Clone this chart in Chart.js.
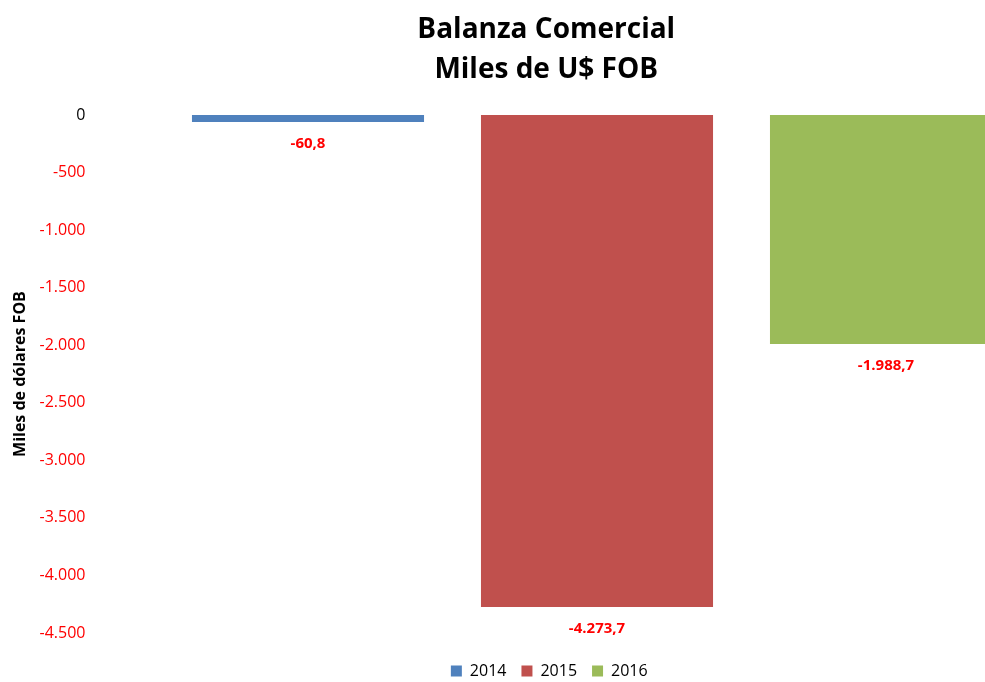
<!DOCTYPE html>
<html lang="es">
<head>
<meta charset="UTF-8">
<title>Balanza Comercial</title>
<script src="https://cdn.jsdelivr.net/npm/chart.js"></script>
<style>
  html, body { margin: 0; padding: 0; background: #fff; overflow: hidden; }
  .graph-container { position: relative; width: 1092px; height: 682px; }
</style>
</head>
<body>
<div class="graph-container">
  <canvas id="balanzaChart"></canvas>
</div>

<script>
// Balanza comercial por año, en miles de US$ FOB
const years = ['2014', '2015', '2016'];
const balance = [-60.8, -4273.7, -1988.7];
const barColors = ['#4F81BD', '#C0504D', '#9BBB59'];
const yTicks = [0, -500, -1000, -1500, -2000, -2500, -3000, -3500, -4000, -4500];

const FONT = 'Open Sans';

// formato con punto de miles y coma decimal (ej. -4.273,7)
function formatEs(value, decimals) {
  const neg = value < 0;
  const parts = Math.abs(value).toFixed(decimals).split('.');
  const intPart = parts[0].replace(/\B(?=(\d{3})+(?!\d))/g, '.');
  return (neg ? '-' : '') + intPart + (parts[1] ? ',' + parts[1] : '');
}

// etiquetas de valor debajo de cada barra
const valueLabels = {
  id: 'valueLabels',
  afterDatasetsDraw(chart) {
    const ctx = chart.ctx;
    ctx.save();
    ctx.font = 'bold 15px "' + FONT + '"';
    ctx.fillStyle = '#FF0000';
    ctx.textAlign = 'center';
    ctx.textBaseline = 'middle';
    chart.data.datasets.forEach((ds, i) => {
      chart.getDatasetMeta(i).data.forEach((bar, j) => {
        const v = ds.data[j];
        if (v === null || v === undefined) return;
        ctx.fillText(formatEs(v, 1), bar.x, bar.y + 22);
      });
    });
    ctx.restore();
  }
};

// título y leyenda centrados un poco más a la derecha que el ancho completo
const shiftBlocks = {
  id: 'shiftBlocks',
  afterLayout(chart) {
    const moves = [[chart.titleBlock, 25], [chart.legend, 28]];
    moves.forEach(([box, dx]) => {
      if (!box) return;
      box.left += dx;
      box.right += dx;
    });
  }
};

// un dataset por año, cada uno con valor solo en su propia categoría
const datasets = years.map((y, i) => ({
  label: y,
  data: years.map((_, j) => (j === i ? balance[i] : null)),
  backgroundColor: barColors[i],
  grouped: false,
  barPercentage: 0.803,
  categoryPercentage: 1
}));

const ctx = document.getElementById('balanzaChart').getContext('2d');
new Chart(ctx, {
  type: 'bar',
  data: { labels: years, datasets: datasets },
  options: {
    responsive: true,
    maintainAspectRatio: false,
    animation: false,
    layout: { padding: { top: 0, right: 61.5, bottom: 0, left: 12 } },
    plugins: {
      title: {
        display: true,
        text: ['Balanza Comercial', 'Miles de U$ FOB'],
        color: '#000',
        font: { family: FONT, size: 28, weight: 'bold', lineHeight: 1.43 },
        padding: { top: 10, bottom: 25 }
      },
      legend: {
        position: 'bottom',
        maxHeight: 34,
        labels: {
          color: '#000',
          font: { family: FONT, size: 16 },
          boxWidth: 11,
          boxHeight: 11,
          padding: 15
        }
      },
      tooltip: { enabled: false }
    },
    scales: {
      x: {
        ticks: { display: false },
        grid: { display: false },
        border: { display: false },
        afterFit(scale) { scale.height = 15; }
      },
      y: {
        min: -4500,
        max: 0,
        afterBuildTicks(scale) { scale.ticks = yTicks.map(v => ({ value: v })); },
        ticks: {
          padding: 70,
          color: c => (c.tick.value === 0 ? '#000000' : '#FF0000'),
          font: { family: FONT, size: 16 },
          callback: v => formatEs(v, 0)
        },
        grid: { display: false },
        border: { display: false },
        title: {
          display: true,
          text: 'Miles de dólares FOB',
          color: '#000',
          font: { family: FONT, size: 16, weight: 'bold' },
          padding: { top: -1.5, bottom: 0 }
        },
        afterFit(scale) {
          scale.width = 151.5;
          // el padding de las etiquetas no debe recortar el área vertical
          scale.paddingTop = 10;
          scale.paddingBottom = 10;
        }
      }
    }
  },
  plugins: [valueLabels, shiftBlocks]
});
</script>
</body>
</html>
